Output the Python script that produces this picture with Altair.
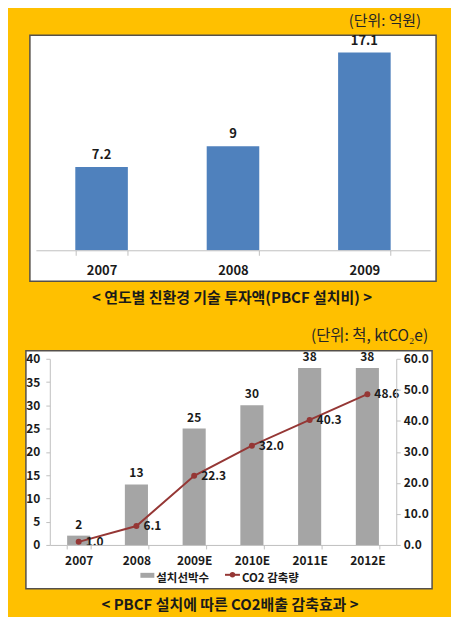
import altair as alt
import pandas as pd

KR = "Noto Sans CJK KR"
DARK = "#1a1a1a"
AXIS_GRAY = "#BFBFBF"
BOX_STROKE = "#55504a"
BAR_BLUE = "#4F81BD"
BAR_GRAY = "#A5A5A5"
LINE_RED = "#953735"

# ---------------- data ----------------
years_top = ["2007", "2008", "2009"]
invest = [7.2, 9, 17.1]

years_bot = ["2007", "2008", "2009E", "2010E", "2011E", "2012E"]
ships = [2, 13, 25, 30, 38, 38]
co2 = [1.0, 6.1, 22.3, 32.0, 40.3, 48.6]

unit_top = "(단위: 억원)"
caption_top = "< 연도별 친환경 기술 투자액(PBCF 설치비) >"
unit_bot = "(단위: 척, ktCO₂e)"
caption_bot = "< PBCF 설치에 따른 CO2배출 감축효과 >"
ship_name = "설치선박수"
co2_name = "CO2 감축량"

df_top = pd.DataFrame({"year": years_top, "value": invest})
df_bot = pd.DataFrame({"year": years_bot, "ships": ships, "co2": co2})
one = alt.Data(values=[{}])

# ---------------- top panel ----------------
# (concat aligns both plot origins; the top band scale starts 14px left of it)
W1, H1 = 382, 209

x1 = alt.X("year:N", sort=None,
           scale=alt.Scale(paddingInner=0.6, paddingOuter=0.3, range=[-14, 382]),
           axis=alt.Axis(title=None, labelAngle=0, labelFont=KR, labelFontSize=13,
                         labelFontWeight="bold", labelColor=DARK, labelPadding=9,
                         tickBand="extent", tickSize=5, tickColor=AXIS_GRAY,
                         domainColor=AXIS_GRAY, zindex=1))
y1 = alt.Y("value:Q", scale=alt.Scale(domain=[0, 18]), axis=None)

frame1 = alt.Chart(one).mark_rect(opacity=0).encode(
    x=alt.value(-41), x2=alt.value(402), y=alt.value(-32), y2=alt.value(270))
box1 = alt.Chart(one).mark_rect(fill="white", stroke=BOX_STROKE, strokeWidth=1.5).encode(
    x=alt.value(-20), x2=alt.value(388), y=alt.value(-7), y2=alt.value(240))
bars1 = alt.Chart(df_top).mark_bar(color=BAR_BLUE).encode(x=x1, y=y1)
lab1 = alt.Chart(df_top).mark_text(font=KR, fontSize=13, fontWeight="bold",
                                   color=DARK, baseline="middle", dy=-12).encode(
    x=x1, y=y1, text=alt.Text("value:Q"))
unit1 = alt.Chart(one).mark_text(font=KR, fontSize=15, color="#262626",
                                 align="right", baseline="middle").encode(
    x=alt.value(373), y=alt.value(-21.5), text=alt.value(unit_top))
cap1 = alt.Chart(one).mark_text(font=KR, fontSize=15, fontWeight="bold", color=DARK,
                                align="center", baseline="middle").encode(
    x=alt.value(183), y=alt.value(257), text=alt.value(caption_top))

top = alt.layer(frame1, box1, bars1, lab1, unit1, cap1).properties(width=W1, height=H1)

# ---------------- bottom panel ----------------
W2, H2 = 348, 187

x2 = alt.X("year:N", sort=None,
           scale=alt.Scale(paddingInner=0.6, paddingOuter=0.3),
           axis=alt.Axis(title=None, labelAngle=0, labelFont=KR, labelFontSize=12,
                         labelFontWeight="bold", labelColor=DARK, labelPadding=7,
                         tickBand="extent", tickSize=4, tickColor=AXIS_GRAY,
                         domainColor=AXIS_GRAY, zindex=1))
y_left = alt.Y("ships:Q", scale=alt.Scale(domain=[0, 40]),
               axis=alt.Axis(title=None, values=list(range(0, 41, 5)), grid=False,
                             labelFont=KR, labelFontSize=12, labelFontWeight="bold",
                             labelColor=DARK, tickSize=4, labelPadding=6,
                             tickColor=AXIS_GRAY, domainColor=AXIS_GRAY, zindex=1))
y_right = alt.Y("co2:Q", scale=alt.Scale(domain=[0, 60]),
                axis=alt.Axis(title=None, orient="right", values=list(range(0, 61, 10)),
                              format=".1f", grid=False, labelFont=KR, labelFontSize=12,
                              labelFontWeight="bold", labelColor=DARK, tickSize=4,
                              labelPadding=3, tickColor=AXIS_GRAY,
                              domainColor=AXIS_GRAY, zindex=1))

frame2 = alt.Chart(one).mark_rect(opacity=0).encode(
    x=alt.value(-41), x2=alt.value(402), y=alt.value(-46), y2=alt.value(257))
box2 = alt.Chart(one).mark_rect(fill="white", stroke=BOX_STROKE, strokeWidth=1.5).encode(
    x=alt.value(-24), x2=alt.value(384), y=alt.value(-8), y2=alt.value(231))

bars2 = alt.Chart(df_bot).mark_bar(color=BAR_GRAY).encode(x=x2, y=y_left)
lab2 = alt.Chart(df_bot).mark_text(font=KR, fontSize=12, fontWeight="bold", color=DARK,
                                   baseline="middle", dy=-11).encode(
    x=x2, y=y_left, text=alt.Text("ships:Q"))
left_layer = alt.layer(bars2, lab2)

line2 = alt.Chart(df_bot).mark_line(strokeWidth=2, color=LINE_RED).encode(x=x2, y=y_right)
pts2 = alt.Chart(df_bot).mark_point(filled=True, shape="circle", size=36,
                                    color=LINE_RED, opacity=1).encode(x=x2, y=y_right)
lab3 = alt.Chart(df_bot).mark_text(font=KR, fontSize=12, fontWeight="bold", color=DARK,
                                   align="left", baseline="middle", dx=7).encode(
    x=x2, y=y_right, text=alt.Text("co2:Q", format=".1f"))
right_layer = alt.layer(line2, pts2, lab3)

# legend (keys + labels inside the panel)
leg_rect = alt.Chart(one).mark_rect(color=BAR_GRAY).encode(
    x=alt.value(91), x2=alt.value(105), y=alt.value(215), y2=alt.value(220))
leg_txt1 = alt.Chart(one).mark_text(font=KR, fontSize=11.5, fontWeight="bold", color=DARK,
                                    align="left", baseline="middle").encode(
    x=alt.value(107), y=alt.value(221), text=alt.value(ship_name))
leg_line = alt.Chart(one).mark_rule(color=LINE_RED, strokeWidth=2).encode(
    x=alt.value(176), x2=alt.value(191), y=alt.value(217))
leg_dot = alt.Chart(one).mark_point(filled=True, shape="circle", size=30,
                                    color=LINE_RED, opacity=1).encode(
    x=alt.value(183.5), y=alt.value(217))
leg_txt2 = alt.Chart(one).mark_text(font=KR, fontSize=11.5, fontWeight="bold", color=DARK,
                                    align="left", baseline="middle").encode(
    x=alt.value(193), y=alt.value(221), text=alt.value(co2_name))

unit2 = alt.Chart(one).mark_text(font=KR, fontSize=15.5, color="#262626",
                                 align="right", baseline="middle").encode(
    x=alt.value(380), y=alt.value(-23), text=alt.value(unit_bot))
cap2 = alt.Chart(one).mark_text(font=KR, fontSize=15, fontWeight="bold", color=DARK,
                                align="center", baseline="middle").encode(
    x=alt.value(181), y=alt.value(247), text=alt.value(caption_bot))

bottom = alt.layer(frame2, box2, left_layer, right_layer,
                   leg_rect, leg_txt1, leg_line, leg_dot, leg_txt2,
                   unit2, cap2).resolve_scale(y="independent").properties(width=W2, height=H2)

chart = alt.vconcat(top, bottom, spacing=0).properties(
    padding=0, background="#FFC000").configure_view(stroke="transparent")

chart.save("out.html", embed_options={"renderer": "svg", "actions": False})
